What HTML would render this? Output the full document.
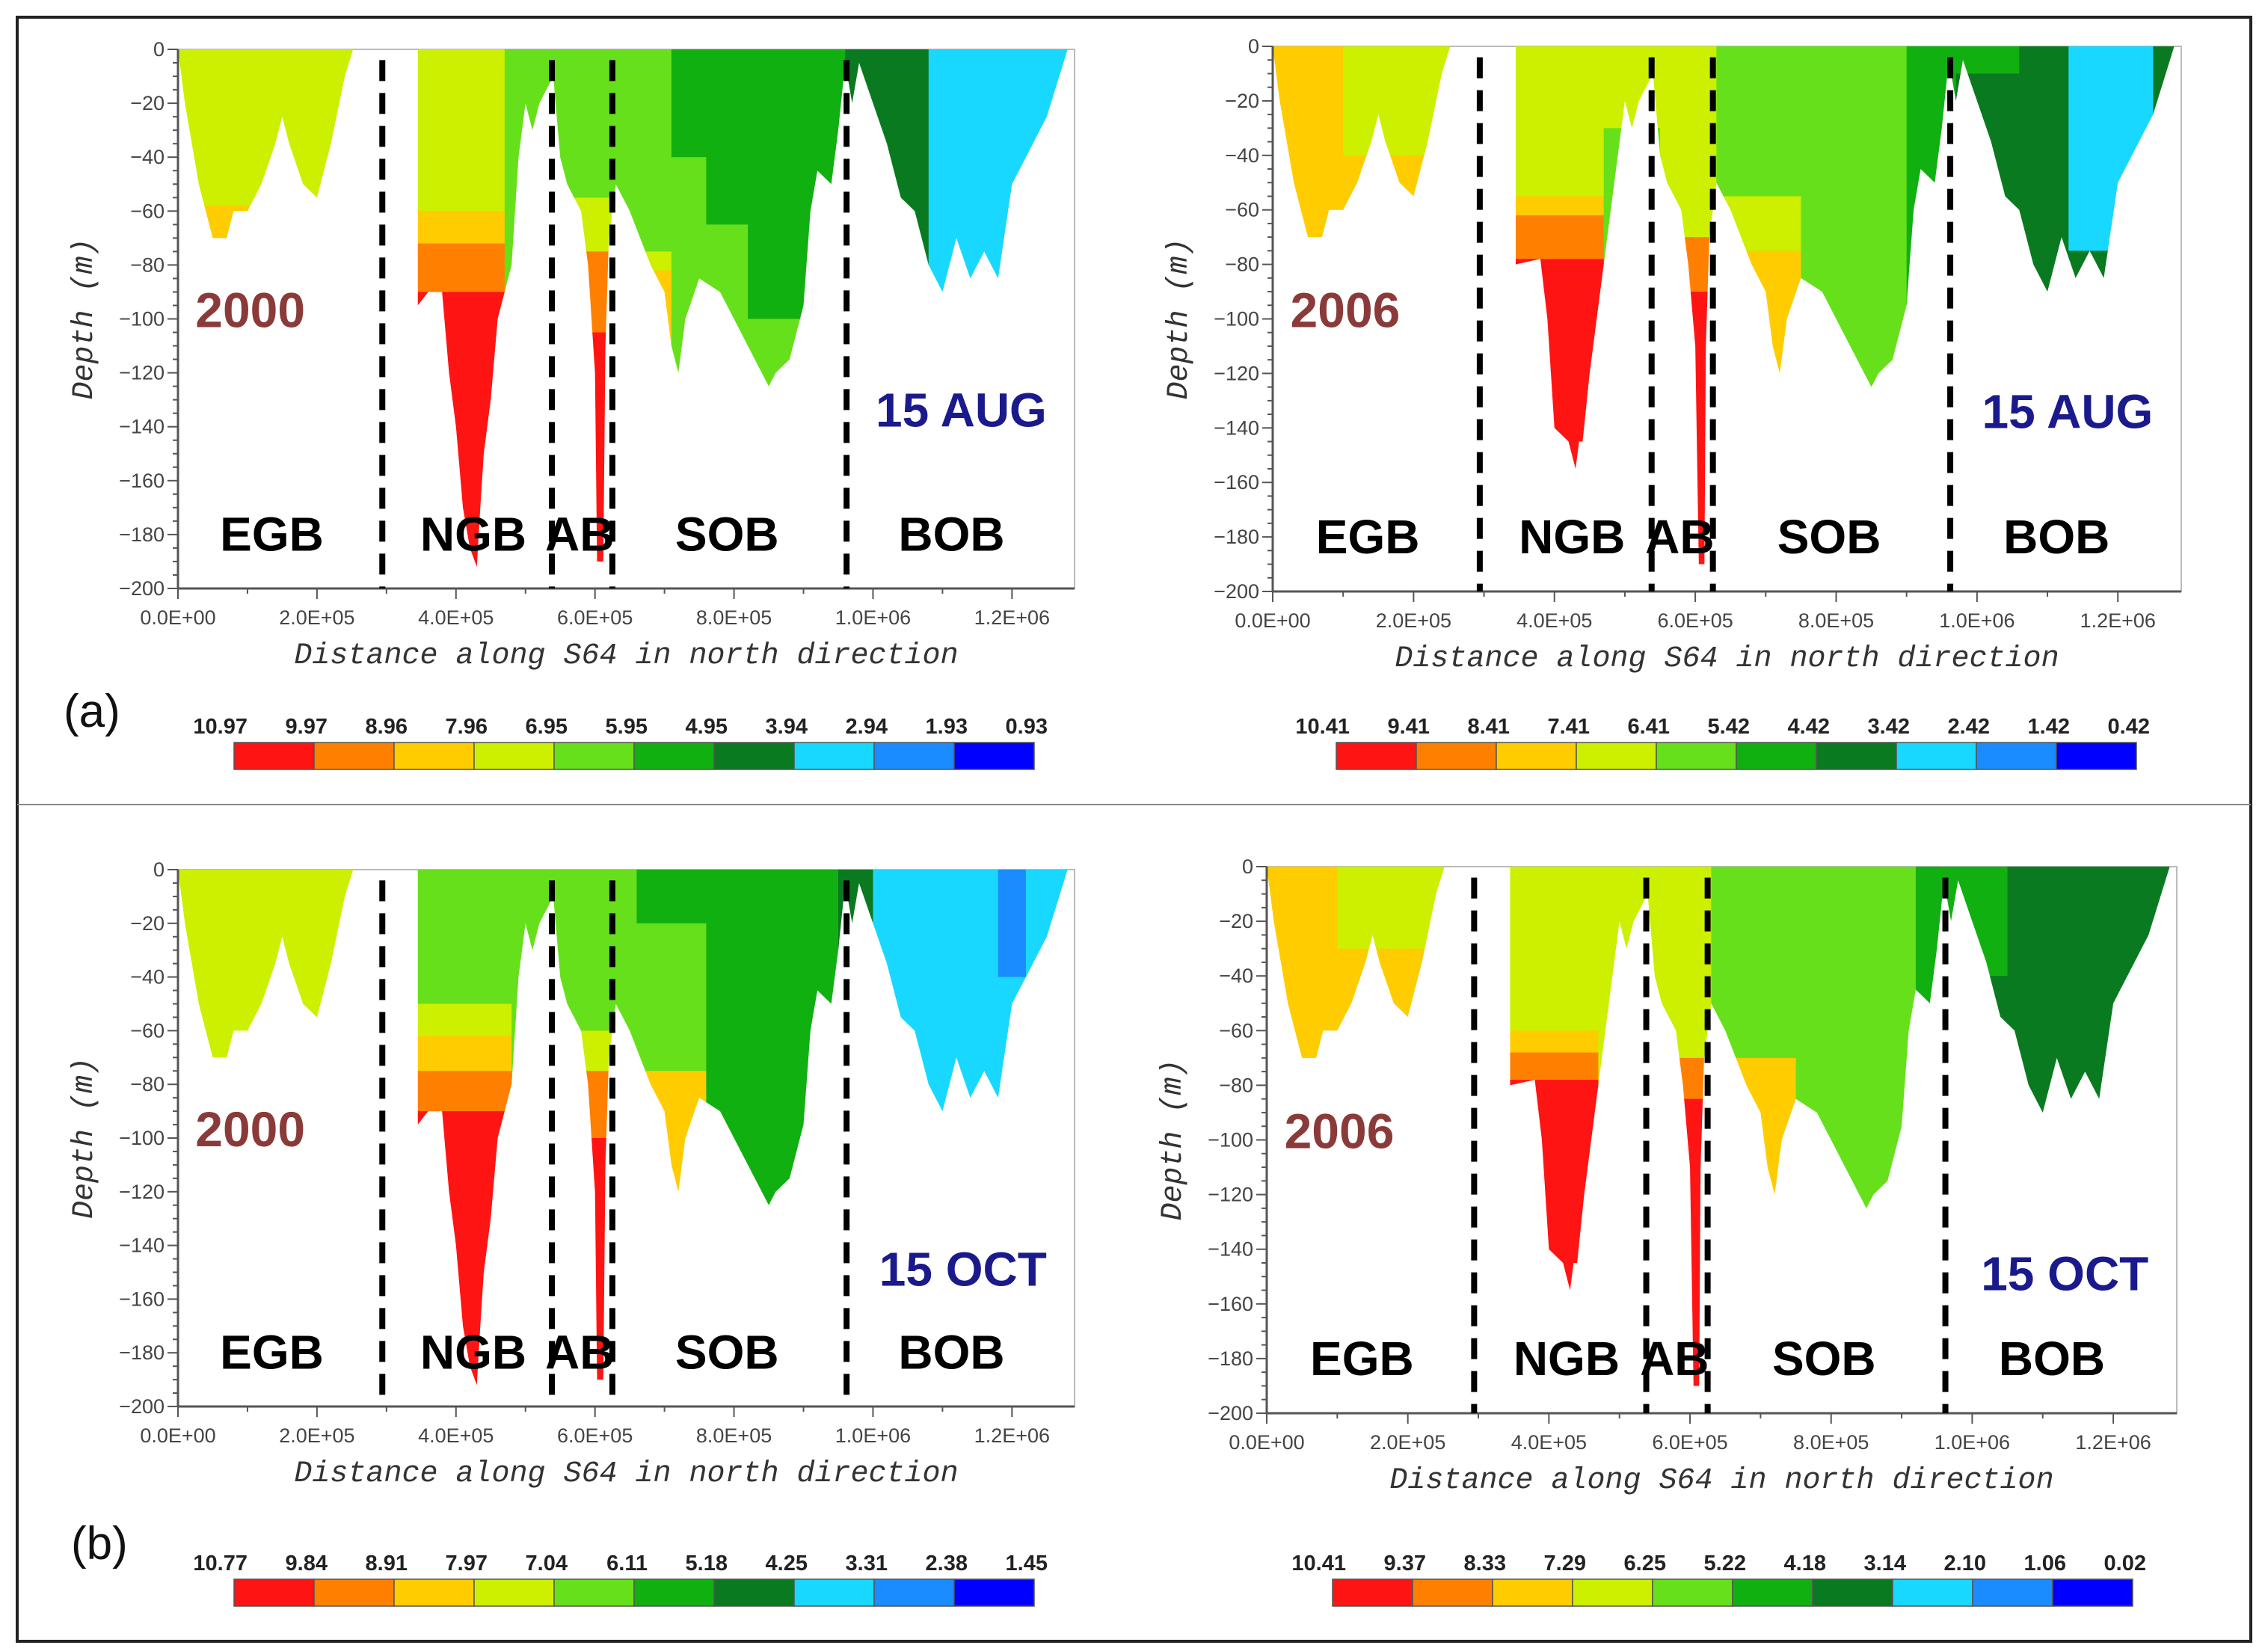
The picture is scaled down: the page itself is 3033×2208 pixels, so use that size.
<!DOCTYPE html>
<html><head><meta charset="utf-8"><style>
html,body{margin:0;padding:0;background:#fff}
svg{display:block}
text{font-family:"Liberation Sans",sans-serif}
</style></head><body>
<svg id="fig" width="3033" height="2208" viewBox="0 0 3033 2208" xmlns="http://www.w3.org/2000/svg">
<rect x="23" y="23" width="2987" height="2172" fill="none" stroke="#222" stroke-width="4"/>
<line x1="23" y1="1076" x2="3010" y2="1076" stroke="#888" stroke-width="2"/>
<text x="85" y="972" font-size="62" fill="#111">(a)</text>
<text x="95" y="2085" font-size="62" fill="#111">(b)</text>
</svg>
<script>
const palette = ['#ff1414','#ff8000','#ffcc00','#ccf000','#66e01a','#11b011','#0a7a20','#18d8ff','#1a8cff','#0000ff'];
const bathy2000 = [[0,0],[0.01,-20],[0.03,-50],[0.05,-70],[0.07,-70],[0.08,-60],[0.1,-60],[0.12,-50],[0.14,-35],[0.15,-25],[0.16,-35],[0.18,-50],[0.2,-55],[0.22,-35],[0.24,-10],[0.252,0],[0.345,0],[0.345,-95],[0.36,-90],[0.38,-90],[0.39,-120],[0.4,-140],[0.41,-170],[0.42,-185],[0.43,-192],[0.435,-170],[0.44,-150],[0.45,-130],[0.46,-100],[0.47,-90],[0.48,-80],[0.49,-40],[0.5,-20],[0.51,-30],[0.52,-20],[0.53,-15],[0.54,-10],[0.55,-40],[0.56,-50],[0.58,-60],[0.59,-80],[0.6,-120],[0.603,-190],[0.612,-190],[0.615,-110],[0.62,-70],[0.63,-50],[0.65,-60],[0.68,-80],[0.7,-90],[0.71,-110],[0.72,-120],[0.73,-100],[0.75,-85],[0.78,-90],[0.8,-100],[0.83,-115],[0.85,-125],[0.86,-120],[0.88,-115],[0.9,-95],[0.91,-60],[0.92,-45],[0.94,-50],[0.95,-30],[0.96,-5],[0.97,-20],[0.98,-5],[1.0,-20],[1.02,-35],[1.04,-55],[1.06,-60],[1.08,-80],[1.1,-90],[1.12,-70],[1.14,-85],[1.16,-75],[1.18,-85],[1.2,-50],[1.22,-40],[1.25,-25],[1.28,0]];
const bathy2006 = [[0,0],[0.01,-20],[0.03,-50],[0.05,-70],[0.07,-70],[0.08,-60],[0.1,-60],[0.12,-50],[0.14,-35],[0.15,-25],[0.16,-35],[0.18,-50],[0.2,-55],[0.22,-35],[0.24,-10],[0.252,0],[0.345,0],[0.345,-80],[0.38,-78],[0.39,-100],[0.4,-140],[0.42,-145],[0.43,-155],[0.435,-145],[0.44,-145],[0.45,-120],[0.46,-100],[0.47,-80],[0.48,-60],[0.49,-40],[0.5,-20],[0.51,-30],[0.52,-20],[0.53,-15],[0.54,-10],[0.55,-40],[0.56,-50],[0.58,-60],[0.59,-80],[0.6,-110],[0.605,-190],[0.613,-190],[0.615,-110],[0.62,-70],[0.63,-50],[0.65,-60],[0.68,-80],[0.7,-90],[0.71,-110],[0.72,-120],[0.73,-100],[0.75,-85],[0.78,-90],[0.8,-100],[0.83,-115],[0.85,-125],[0.86,-120],[0.88,-115],[0.9,-95],[0.91,-60],[0.92,-45],[0.94,-50],[0.95,-30],[0.96,-5],[0.97,-20],[0.98,-5],[1.0,-20],[1.02,-35],[1.04,-55],[1.06,-60],[1.08,-80],[1.1,-90],[1.12,-70],[1.14,-85],[1.16,-75],[1.18,-85],[1.2,-50],[1.22,-40],[1.25,-25],[1.28,0]];
const zonesA = [[0,0.26,[[3,-58],[2,-200]]],[0.345,0.47,[[3,-60],[2,-72],[1,-90],[0,-200]]],[0.47,0.55,[[4,-200]]],[0.55,0.63,[[4,-55],[3,-75],[1,-105],[0,-200]]],[0.63,0.71,[[4,-75],[3,-82],[2,-200]]],[0.71,0.76,[[5,-40],[4,-200]]],[0.76,0.82,[[5,-65],[4,-200]]],[0.82,0.96,[[5,-100],[4,-200]]],[0.96,1.08,[[6,-200]]],[1.08,1.3,[[7,-200]]]];
const zonesB = [[0,0.1,[[2,-200]]],[0.1,0.26,[[3,-40],[2,-200]]],[0.345,0.47,[[3,-55],[2,-62],[1,-78],[0,-200]]],[0.47,0.55,[[3,-30],[4,-200]]],[0.55,0.63,[[3,-70],[1,-90],[0,-200]]],[0.63,0.75,[[4,-55],[3,-75],[2,-200]]],[0.75,0.9,[[4,-200]]],[0.9,0.97,[[5,-200]]],[0.97,1.06,[[5,-10],[6,-200]]],[1.06,1.13,[[6,-200]]],[1.13,1.25,[[7,-75],[6,-200]]],[1.25,1.3,[[6,-200]]]];
const zonesC = [[0,0.26,[[3,-200]]],[0.345,0.48,[[4,-50],[3,-62],[2,-75],[1,-90],[0,-200]]],[0.48,0.55,[[4,-200]]],[0.55,0.63,[[4,-60],[3,-75],[1,-100],[0,-200]]],[0.63,0.66,[[4,-200]]],[0.66,0.76,[[5,-20],[4,-75],[2,-200]]],[0.76,0.95,[[5,-200]]],[0.95,1.0,[[6,-200]]],[1.0,1.18,[[7,-200]]],[1.18,1.22,[[8,-40],[7,-200]]],[1.22,1.3,[[7,-200]]]];
const zonesD = [[0,0.1,[[2,-200]]],[0.1,0.26,[[3,-30],[2,-200]]],[0.345,0.47,[[3,-60],[2,-68],[1,-78],[0,-200]]],[0.47,0.55,[[3,-200]]],[0.55,0.63,[[3,-70],[1,-85],[0,-200]]],[0.63,0.75,[[4,-70],[2,-200]]],[0.75,0.92,[[4,-200]]],[0.92,1.0,[[5,-200]]],[1.0,1.05,[[5,-40],[6,-200]]],[1.05,1.3,[[6,-200]]]];
const dividers = [0.294,0.538,0.625,0.962];
const regionNames = ['EGB','NGB','AB','SOB','BOB'];
const regionPos = [0.135,0.425,0.578,0.79,1.113];
const yTicks = [0,-20,-40,-60,-80,-100,-120,-140,-160,-180,-200];
const xTicks = [0,0.2,0.4,0.6,0.8,1.0,1.2];
const xTickLabels = ['0.0E+00','2.0E+05','4.0E+05','6.0E+05','8.0E+05','1.0E+06','1.2E+06'];
const cbarA = ['10.97','9.97','8.96','7.96','6.95','5.95','4.95','3.94','2.94','1.93','0.93'];
const cbarB = ['10.41','9.41','8.41','7.41','6.41','5.42','4.42','3.42','2.42','1.42','0.42'];
const cbarC = ['10.77','9.84','8.91','7.97','7.04','6.11','5.18','4.25','3.31','2.38','1.45'];
const cbarD = ['10.41','9.37','8.33','7.29','6.25','5.22','4.18','3.14','2.10','1.06','0.02'];

const NS='http://www.w3.org/2000/svg';
const svg=document.getElementById('fig');
function mk(tag,attrs,parent){const e=document.createElementNS(NS,tag);for(const k in attrs)e.setAttribute(k,attrs[k]);(parent||svg).appendChild(e);return e;}

const panels=[
 {id:'a-2000-aug',x0:238,x1:1437,y0:66,y1:787,bathy:bathy2000,zones:zonesA,year:'2000',date:'15 AUG',dateY:-140,cb:cbarA,cbx:313,cby:993},
 {id:'a-2006-aug',x0:1702,x1:2917,y0:62,y1:791,bathy:bathy2006,zones:zonesB,year:'2006',date:'15 AUG',dateY:-140,cb:cbarB,cbx:1787,cby:993},
 {id:'b-2000-oct',x0:238,x1:1437,y0:1163,y1:1881,bathy:bathy2000,zones:zonesC,year:'2000',date:'15 OCT',dateY:-155,cb:cbarC,cbx:313,cby:2112},
 {id:'b-2006-oct',x0:1694,x1:2911,y0:1159,y1:1890,bathy:bathy2006,zones:zonesD,year:'2006',date:'15 OCT',dateY:-155,cb:cbarD,cbx:1782,cby:2112}
];
const XMAX=1.29;
const monoStyle='font-family:"Liberation Mono",monospace;font-style:italic;font-size:40px';
panels.forEach((p,pi)=>{
 const g=mk('g',{});
 
 
 const sx=d=>p.x0+(d/XMAX)*(p.x1-p.x0);
 const sy=v=>p.y0+(-v/200)*(p.y1-p.y0);
 mk('rect',{x:p.x0,y:p.y0,width:p.x1-p.x0,height:p.y1-p.y0,fill:'none',stroke:'#bbb','stroke-width':2},g);
 const cp=mk('clipPath',{id:'clip'+pi},g);
 const pts=p.bathy.map(b=>sx(b[0])+','+sy(b[1])).join(' ');
 mk('polygon',{points:pts},cp);
 const fillG=mk('g',{'clip-path':'url(#clip'+pi+')'},g);
 
 
 p.zones.forEach(z=>{
  let top=0;
  z[2].forEach(band=>{
   const r=mk('rect',{x:sx(z[0]),y:sy(top),width:sx(z[1])-sx(z[0])+1,height:sy(band[1])-sy(top)+1,fill:palette[band[0]]},fillG);
   
   
   top=band[1];
  });
 });
 mk('line',{x1:p.x0,y1:p.y0,x2:p.x0,y2:p.y1,stroke:'#555','stroke-width':3},g);
 mk('line',{x1:p.x0,y1:p.y1,x2:p.x1,y2:p.y1,stroke:'#555','stroke-width':3},g);
 for(let v=0;v>=-200;v-=5){const major=v%20===0;mk('line',{x1:p.x0,y1:sy(v),x2:p.x0-(major?14:7),y2:sy(v),stroke:'#555','stroke-width':2},g);}
 yTicks.forEach(v=>{const t=mk('text',{x:p.x0-18,y:sy(v)+9,'font-size':27,fill:'#444','text-anchor':'end'},g);t.textContent=v===0?'0':'\u2212'+(-v);});
 for(let d=0;d<=1.25;d+=0.1){const major=Math.round(d*10)%2===0;mk('line',{x1:sx(d),y1:p.y1,x2:sx(d),y2:p.y1+(major?14:7),stroke:'#555','stroke-width':2},g);}
 xTicks.forEach((d,i)=>{const t=mk('text',{x:sx(d),y:p.y1+48,'font-size':27,fill:'#444','text-anchor':'middle'},g);t.textContent=xTickLabels[i];});
 const xl=mk('text',{x:(p.x0+p.x1)/2,y:p.y1+100,fill:'#333','text-anchor':'middle',style:monoStyle},g);
 xl.textContent='Distance along S64 in north direction';
 
 const yl=mk('text',{x:0,y:0,fill:'#333','text-anchor':'middle',style:monoStyle,transform:'translate('+(p.x0-115)+','+((p.y0+p.y1)/2)+') rotate(-90)'},g);
 yl.textContent='Depth (m)';
 
 dividers.forEach(d=>{const l=mk('line',{x1:sx(d),y1:sy(-4),x2:sx(d),y2:p.y1,stroke:'#000','stroke-width':8,'stroke-dasharray':'28 16'},g);});
 regionNames.forEach((n,i)=>{const t=mk('text',{x:sx(regionPos[i]),y:sy(-186),'font-size':64,'font-weight':'bold',fill:'#000','text-anchor':'middle'},g);t.textContent=n;});
 const yr=mk('text',{x:sx(0.025),y:sy(-103),'font-size':66,'font-weight':'bold',fill:'#8b3a3a'},g);
 yr.textContent=p.year;
 const dt=mk('text',{x:sx(1.25),y:sy(p.dateY),'font-size':64,'font-weight':'bold',fill:'#1a1a8c','text-anchor':'end'},g);
 dt.textContent=p.date;
 const cg=mk('g',{});
 
 
 const bw=107;
 palette.forEach((c,i)=>{const r=mk('rect',{x:p.cbx+i*bw,y:p.cby,width:bw,height:36,fill:c,stroke:'#555','stroke-width':1.5},cg);});
 p.cb.forEach((lab,i)=>{const t=mk('text',{x:p.cbx+i*bw+18,y:p.cby-12,'font-size':29,'font-weight':'bold',fill:'#222','text-anchor':'end'},cg);t.textContent=lab;});
});
</script>
</body></html>
